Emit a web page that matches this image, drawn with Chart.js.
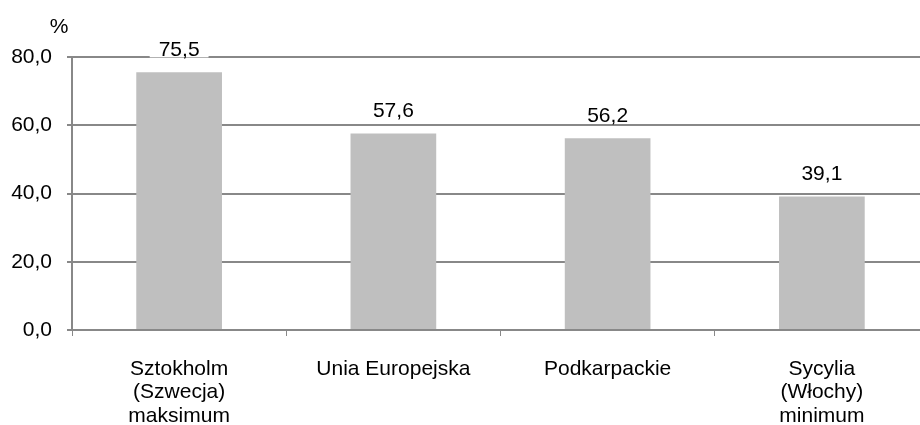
<!DOCTYPE html>
<html>
<head>
<meta charset="utf-8">
<script src="https://cdn.jsdelivr.net/npm/chart.js@4/dist/chart.umd.min.js"></script>
<style>
html,body{margin:0;padding:0;background:#fff;overflow:hidden;}
#wrap{position:relative;width:930px;height:425px;}
</style>
</head>
<body>
<div id="wrap"><canvas id="c"></canvas></div>
<script>
const categories = [
  ["Sztokholm", "(Szwecja)", "maksimum"],
  ["Unia Europejska"],
  ["Podkarpackie"],
  ["Sycylia", "(Włochy)", "minimum"]
];
const values = [75.5, 57.6, 56.2, 39.1];
const yTicks = [0, 20, 40, 60, 80];
const unitLabel = "%";

const FONT = "'Liberation Sans', Arial, sans-serif";
const fmt = v => v.toFixed(1).replace('.', ',');

const labelPlugin = {
  id: 'valueLabels',
  afterDatasetsDraw(chart) {
    const ctx = chart.ctx;
    const meta = chart.getDatasetMeta(0);
    ctx.save();
    ctx.font = "21px " + FONT;
    ctx.textAlign = 'center';
    ctx.textBaseline = 'middle';
    meta.data.forEach((bar, i) => {
      const txt = fmt(values[i]);
      const y = bar.y - 23;
      const w = ctx.measureText(txt).width + 18;
      ctx.fillStyle = '#fff';
      ctx.fillRect(bar.x - w / 2, y - 8, w, 16);
      ctx.fillStyle = '#000';
      ctx.fillText(txt, bar.x, y + 1);
    });
    ctx.fillText(unitLabel, 59, 27);
    ctx.restore();
  }
};

new Chart(document.getElementById('c'), {
  type: 'bar',
  data: {
    labels: categories,
    datasets: [{
      data: values,
      backgroundColor: '#bfbfbf',
      borderWidth: 0,
      categoryPercentage: 1.0,
      barPercentage: 0.4
    }]
  },
  options: {
    responsive: true,
    maintainAspectRatio: false,
    animation: false,
    layout: { padding: { top: 57, right: 1, bottom: 0, left: 0 } },
    plugins: { legend: { display: false }, tooltip: { enabled: false } },
    scales: {
      x: {
        grid: { display: true, drawOnChartArea: false, drawTicks: true, tickLength: 6, color: '#888', offset: true },
        border: { display: true, color: '#888', width: 2 },
        ticks: { color: '#000', font: { family: FONT, size: 21, lineHeight: 1.1 }, padding: 22, maxRotation: 0, autoSkip: false },
        afterFit: s => { s.height = 95; }
      },
      y: {
        min: 0, max: 80,
        afterBuildTicks: s => { s.ticks = yTicks.map(v => ({ value: v })); },
        grid: { color: '#888', lineWidth: 2, tickLength: 5 },
        border: { display: true, color: '#888', width: 2 },
        ticks: { color: '#000', font: { family: FONT, size: 21 }, padding: 15, callback: v => fmt(v) },
        afterFit: s => { s.width = 72; }
      }
    }
  },
  plugins: [labelPlugin]
});
</script>
</body>
</html>
